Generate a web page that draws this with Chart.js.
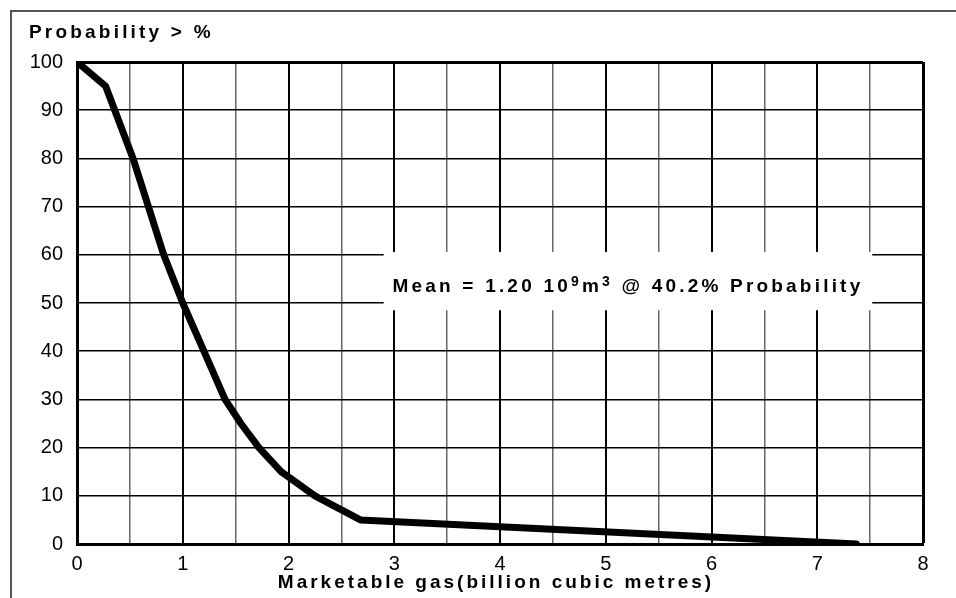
<!DOCTYPE html>
<html>
<head>
<meta charset="utf-8">
<script src="https://cdn.jsdelivr.net/npm/chart.js@4.4.1/dist/chart.umd.min.js"></script>
<style>
  html, body { margin: 0; padding: 0; background: #fff; }
  canvas { display: block; }
</style>
</head>
<body>
<canvas id="c" width="956" height="598"></canvas>
<script>
// gas volume (billion m3) vs probability of exceeding (%)
var gasVolume = [0, 0.27, 0.53, 0.82, 1.0, 1.2, 1.4, 1.55, 1.72, 1.93, 2.25, 2.68, 7.37];
var probability = [100, 95, 80, 60, 50, 40, 30, 25, 20, 15, 10, 5, 0];
var xTicks = [0, 1, 2, 3, 4, 5, 6, 7, 8];
var yTicks = [0, 10, 20, 30, 40, 50, 60, 70, 80, 90, 100];

var yTitle = "Probability > %";
var xTitle = "Marketable gas(billion cubic metres)";
var meanNote = ["Mean = 1.20 10", "9", "m", "3", " @ 40.2% Probability"];

var FONT = "'Liberation Sans', Arial, Helvetica, sans-serif";

var textPlugin = {
  id: "texts",
  beforeDraw: function (chart) {
    var ctx = chart.ctx;
    ctx.save();
    ctx.strokeStyle = "#555";
    ctx.lineWidth = 2;
    ctx.beginPath();
    ctx.moveTo(11, 598);
    ctx.lineTo(11, 11);
    ctx.lineTo(956, 11);
    ctx.stroke();
    ctx.restore();
  },
  afterDatasetsDraw: function (chart) {
    var ctx = chart.ctx, x = chart.scales.x, y = chart.scales.y, a = chart.chartArea;
    ctx.save();
    ctx.fillStyle = "#000";
    ctx.textBaseline = "alphabetic";
    ctx.letterSpacing = "3.2px";

    ctx.font = "bold 19px " + FONT;
    ctx.textAlign = "left";
    ctx.fillText(yTitle, 29, 38);

    ctx.letterSpacing = "3px";
    ctx.textAlign = "center";
    ctx.fillText(xTitle, (a.left + a.right) / 2 - 4, 588);

    // white box behind the mean note
    var bx0 = x.getPixelForValue(2.9), bx1 = x.getPixelForValue(7.52);
    var by0 = y.getPixelForValue(60.6), by1 = y.getPixelForValue(48.5);
    ctx.fillStyle = "#fff";
    ctx.fillRect(bx0, by0, bx1 - bx0, by1 - by0);

    ctx.fillStyle = "#000";
    ctx.textAlign = "left";
    ctx.letterSpacing = "3.2px";
    var big = "bold 19px " + FONT, small = "bold 14px " + FONT;
    var parts = [[meanNote[0], big, 0], [meanNote[1], small, -6], [meanNote[2], big, 0], [meanNote[3], small, -6], [meanNote[4], big, 0]];
    var total = 0;
    parts.forEach(function (p) { ctx.font = p[1]; total += ctx.measureText(p[0]).width; });
    var cx = (bx0 + bx1) / 2 - total / 2, base = (by0 + by1) / 2 + 11;
    parts.forEach(function (p) {
      ctx.font = p[1];
      ctx.fillText(p[0], cx, base + p[2]);
      cx += ctx.measureText(p[0]).width;
    });
    ctx.restore();
  }
};

new Chart(document.getElementById("c"), {
  type: "line",
  data: {
    datasets: [{
      data: gasVolume.map(function (v, i) { return {x: v, y: probability[i]}; }),
      borderColor: "#000",
      borderWidth: 7,
      borderCapStyle: "round",
      borderJoinStyle: "round",
      pointRadius: 0,
      tension: 0,
      fill: false
    }]
  },
  options: {
    responsive: false,
    animation: false,
    layout: {padding: {left: 0, top: 62, right: 33, bottom: 0}},
    plugins: {legend: {display: false}, tooltip: {enabled: false}, title: {display: false}},
    scales: {
      x: {
        type: "linear", min: 0, max: 8,
        afterFit: function (s) { s.height = 54; },
        afterBuildTicks: function (s) {
          var t = [];
          for (var v = 0; v <= 8; v += 0.5) t.push({value: v});
          s.ticks = t;
        },
        ticks: {
          autoSkip: false, maxRotation: 0, color: "#000", padding: 8,
          font: {family: FONT, size: 20},
          callback: function (v) { return xTicks.indexOf(v) >= 0 ? String(v) : ""; }
        },
        grid: {
          drawTicks: false,
          color: function (c) { return c.tick && c.tick.value % 1 === 0 ? "#000" : "#666"; },
          lineWidth: function (c) {
            if (!c.tick) return 1.5;
            if (c.tick.value === 8) return 3;
            return c.tick.value % 1 === 0 ? 2 : 1.5;
          }
        },
        border: {color: "#000", width: 3}
      },
      y: {
        type: "linear", min: 0, max: 100,
        afterFit: function (s) { s.width = 77; },
        afterBuildTicks: function (s) { s.ticks = yTicks.map(function (v) { return {value: v}; }); },
        ticks: {color: "#000", padding: 14, font: {family: FONT, size: 20}},
        grid: {
          drawTicks: false,
          color: "#000",
          lineWidth: function (c) { return c.tick && c.tick.value === 100 ? 3 : 1.5; }
        },
        border: {color: "#000", width: 3}
      }
    }
  },
  plugins: [textPlugin]
});
</script>
</body>
</html>
